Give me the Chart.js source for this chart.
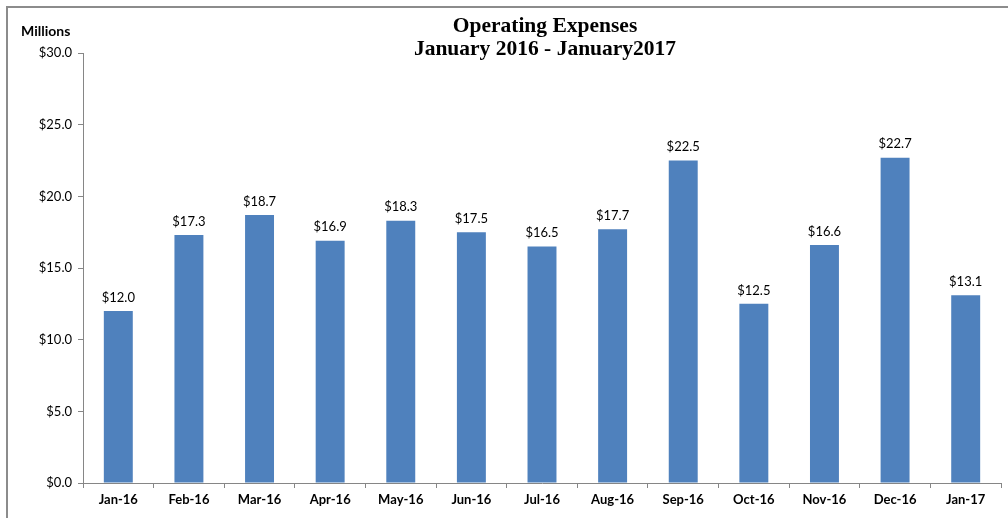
<!DOCTYPE html>
<html><head><meta charset="utf-8">
<script src="https://cdn.jsdelivr.net/npm/chart.js@4/dist/chart.umd.min.js"></script>
<style>
html,body{margin:0;padding:0;background:#fff;overflow:hidden}
#wrap{position:relative;width:1008px;height:518px}
#frame{position:absolute;left:6px;top:6px;width:1100px;height:600px;border-left:2px solid #8c8c8c;border-top:2px solid #8c8c8c;box-sizing:border-box;pointer-events:none}
canvas{position:absolute;left:0;top:0}
</style></head>
<body>
<div id="wrap"><canvas id="c" width="1008" height="518"></canvas><div id="frame"></div></div>
<script>
const categories = ["Jan-16","Feb-16","Mar-16","Apr-16","May-16","Jun-16","Jul-16","Aug-16","Sep-16","Oct-16","Nov-16","Dec-16","Jan-17"];
const expenses = [12.0,17.3,18.7,16.9,18.3,17.5,16.5,17.7,22.5,12.5,16.6,22.7,13.1];
const titleLines = ["Operating Expenses","January 2016 - January2017"];
const unitLabel = "Millions";
const yMin = 0, yMax = 30, yStep = 5;

const axisColor = '#868686';
const fontFam = 'Lato, "Open Sans", sans-serif';

const textPlugin = {
  id:'texts',
  afterDraw(chart){
    const ctx = chart.ctx;
    ctx.save();
    ctx.fillStyle = '#000';
    ctx.textAlign = 'center';
    ctx.textBaseline = 'middle';
    ctx.font = 'bold 21.5px "Liberation Serif", "Times New Roman", serif';
    ctx.fillText(titleLines[0], 545, 26);
    ctx.fillText(titleLines[1], 545, 49);
    ctx.font = 'bold 14px ' + fontFam;
    ctx.textAlign = 'left';
    ctx.fillText(unitLabel, 21, 31);
    // data labels
    ctx.font = '13px ' + fontFam;
    ctx.textAlign = 'center';
    ctx.textBaseline = 'bottom';
    const meta = chart.getDatasetMeta(0);
    meta.data.forEach((bar,i)=>{
      ctx.fillText('$' + expenses[i].toFixed(1), bar.x, bar.y - 7);
    });
    ctx.restore();
  }
};

new Chart(document.getElementById('c'), {
  type:'bar',
  data:{labels:categories, datasets:[{data:expenses, backgroundColor:'#4F81BD', borderWidth:0, barPercentage:0.41, categoryPercentage:1}]},
  options:{
    responsive:false, animation:false,
    layout:{padding:{left:0,right:7,top:53,bottom:0}},
    plugins:{legend:{display:false}, tooltip:{enabled:false}, title:{display:false}},
    scales:{
      x:{
        grid:{display:true, drawOnChartArea:false, drawTicks:true, tickLength:5, color:axisColor, offset:true},
        border:{display:true, color:axisColor, width:1},
        ticks:{color:'#000', font:{family:fontFam, size:13, weight:'bold'}, padding:4, maxRotation:0, autoSkip:false},
        afterFit(s){ s.height = 35; }
      },
      y:{
        min:yMin, max:yMax,
        grid:{display:true, drawOnChartArea:false, drawTicks:true, tickLength:5, color:axisColor},
        border:{display:true, color:axisColor, width:1},
        ticks:{stepSize:yStep, color:'#000', font:{family:fontFam, size:13}, padding:6, callback:v=>'$'+Number(v).toFixed(1)},
        afterFit(s){ s.width = 83; }
      }
    }
  },
  plugins:[textPlugin]
});
</script>
</body></html>
